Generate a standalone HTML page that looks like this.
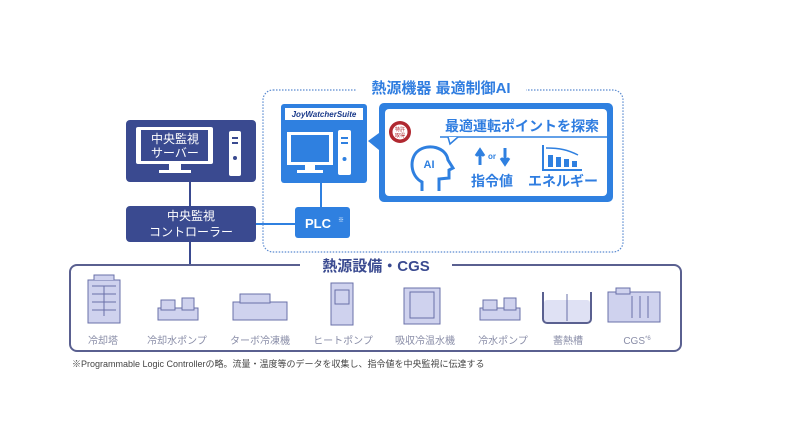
<!DOCTYPE html>
<html><head><meta charset="utf-8"><style>
body{margin:0;background:#fff;}
svg{display:block;font-family:"Liberation Sans","Noto Sans CJK JP",sans-serif;}
</style></head><body>
<svg width="792" height="448" viewBox="0 0 792 448" xmlns="http://www.w3.org/2000/svg">
<rect width="792" height="448" fill="#fff"/>
<line x1="190" y1="182" x2="190" y2="266" stroke="#3a4a90" stroke-width="2"/>
<line x1="256" y1="224" x2="296" y2="224" stroke="#2f80e0" stroke-width="2"/>
<line x1="321" y1="183" x2="321" y2="208" stroke="#2f80e0" stroke-width="2"/>
<rect x="126" y="120" width="130" height="62" rx="4" fill="#3a4a90"/>
<rect x="136" y="127" width="77" height="37" rx="2" fill="#fff"/>
<rect x="141" y="130" width="67" height="31" fill="#3a4a90"/>
<path d="M169 164 h12 v6 h10 v3 h-32 v-3 h10z" fill="#fff"/>
<rect x="229" y="131" width="12" height="45" rx="2" fill="#fff"/>
<rect x="232" y="137" width="6" height="2" fill="#3a4a90"/><rect x="232" y="142" width="6" height="2" fill="#3a4a90"/>
<circle cx="235" cy="158" r="2" fill="#3a4a90"/>
<text x="175" y="143" font-size="12" fill="#fff" text-anchor="middle">中央監視</text>
<text x="175" y="157" font-size="12" fill="#fff" text-anchor="middle">サーバー</text>
<rect x="126" y="206" width="130" height="36" rx="4" fill="#3a4a90"/>
<text x="191" y="220" font-size="12" fill="#fff" text-anchor="middle">中央監視</text>
<text x="191" y="236" font-size="12" fill="#fff" text-anchor="middle">コントローラー</text>
<rect x="263" y="90" width="360" height="162" rx="10" fill="none" stroke="#5a8ad0" stroke-width="1.2" stroke-dasharray="1.5 1.5"/>
<rect x="356" y="78" width="170" height="20" fill="#fff"/>
<text x="441" y="93" font-size="15" font-weight="bold" fill="#2f7de0" text-anchor="middle">熱源機器 最適制御AI</text>
<rect x="281" y="104" width="86" height="79" rx="3" fill="#2f80e0"/>
<rect x="285" y="108" width="78" height="12" fill="#fff"/>
<text x="324" y="117" font-size="8" font-weight="bold" font-style="italic" fill="#1a3a8a" text-anchor="middle">JoyWatcherSuite</text>
<rect x="287" y="132" width="46" height="33" fill="#fff"/>
<rect x="291" y="135" width="38" height="27" fill="#2f80e0"/>
<rect x="305" y="165" width="10" height="5" fill="#fff"/><rect x="297" y="170" width="26" height="3" fill="#fff"/>
<rect x="338" y="130" width="13" height="45" rx="2" fill="#fff"/>
<rect x="341" y="137" width="7" height="2" fill="#2f80e0"/><rect x="341" y="142" width="7" height="2" fill="#2f80e0"/>
<circle cx="344.5" cy="159" r="2" fill="#2f80e0"/>
<rect x="295" y="207" width="55" height="31" rx="3" fill="#2f80e0"/>
<text x="318" y="228" font-size="13" font-weight="bold" fill="#fff" text-anchor="middle">PLC</text>
<text x="338" y="222" font-size="6" fill="#fff">※</text>
<path d="M384 103 H608 a5 5 0 0 1 5 5 V197 a5 5 0 0 1 -5 5 H384 a5 5 0 0 1 -5 -5 V150 L368 141 L379 133 V108 a5 5 0 0 1 5 -5z" fill="#2f80e0"/>
<rect x="385" y="109" width="222" height="87" rx="4" fill="#fff"/>
<text x="522" y="131" font-size="14" font-weight="bold" fill="#2f7de0" text-anchor="middle">最適運転ポイントを探索</text>
<path d="M440 137 H607" stroke="#2f80e0" stroke-width="1.5"/>
<path d="M448 137 L450 144 L458 137" fill="#fff" stroke="#2f80e0" stroke-width="1.5"/>
<circle cx="400" cy="132" r="11" fill="#b02830"/>
<circle cx="400" cy="132" r="8" fill="#fff" stroke="#b02830"/>
<text x="400" y="131" font-size="5" fill="#b02830" text-anchor="middle">特許</text>
<text x="400" y="137" font-size="5" fill="#b02830" text-anchor="middle">取得</text>
<path d="M422 191 V182 C410 176 409 158 418 151 C428 143 446 147 448 160 L453 168 L449 170 L449 178 L439 179 V191" fill="none" stroke="#2f80e0" stroke-width="3"/>
<text x="429" y="168" font-size="11" font-weight="bold" fill="#2f80e0" text-anchor="middle">AI</text>
<path d="M480 165 V152 M476 156 L480 150 L484 156" stroke="#2f80e0" stroke-width="3" fill="#2f80e0"/>
<path d="M505 148 V162 M501 158 L505 164 L509 158" stroke="#2f80e0" stroke-width="3" fill="#2f80e0"/>
<text x="492" y="159" font-size="8" font-weight="bold" fill="#2f80e0" text-anchor="middle">or</text>
<text x="492" y="186" font-size="14" font-weight="bold" fill="#2f7de0" text-anchor="middle">指令値</text>
<path d="M543 145 V170 H582" stroke="#2f80e0" stroke-width="2" fill="none"/>
<rect x="548" y="155" width="5" height="12" fill="#2f80e0"/><rect x="556" y="157" width="5" height="10" fill="#2f80e0"/><rect x="564" y="159" width="5" height="8" fill="#2f80e0"/><rect x="572" y="161" width="5" height="6" fill="#2f80e0"/>
<path d="M546 148 C560 148 568 150 578 155" stroke="#2f80e0" stroke-width="1.5" fill="none"/>
<text x="563" y="186" font-size="14" font-weight="bold" fill="#2f7de0" text-anchor="middle">エネルギー</text>
<rect x="70" y="265" width="611" height="86" rx="7" fill="none" stroke="#5a6090" stroke-width="2"/>
<rect x="300" y="255" width="152" height="20" fill="#fff"/>
<text x="376" y="271" font-size="15" font-weight="bold" fill="#3a4a90" text-anchor="middle">熱源設備・CGS</text>
<g fill="#cfd2ee" stroke="#6a70a8" stroke-width="1">
<rect x="88" y="280" width="32" height="43"/><path d="M94 280 v-5 h20 v5"/><path d="M92 286 h24 M92 294 h24 M92 302 h24 M92 310 h24 M104 286 v30"/>
<rect x="158" y="308" width="40" height="12"/><rect x="161" y="300" width="14" height="10"/><rect x="182" y="298" width="12" height="12"/>
<rect x="233" y="302" width="54" height="18"/><rect x="240" y="294" width="30" height="9"/>
<rect x="331" y="283" width="22" height="42"/><rect x="335" y="290" width="14" height="14"/>
<rect x="404" y="288" width="36" height="36"/><rect x="410" y="292" width="24" height="26"/>
<rect x="480" y="308" width="40" height="12"/><rect x="483" y="300" width="14" height="10"/><rect x="504" y="298" width="12" height="12"/>
<rect x="608" y="292" width="52" height="30"/><rect x="616" y="288" width="14" height="6"/><path d="M632 296 v22 M640 296 v22 M648 296 v22"/>
</g>
<rect x="544" y="300" width="46" height="22" rx="3" fill="#dfe1f4"/>
<path d="M543 292 V319 a4 4 0 0 0 4 4 H587 a4 4 0 0 0 4 -4 V292" fill="none" stroke="#5a6090" stroke-width="2"/>
<line x1="567" y1="294" x2="567" y2="321" stroke="#6a70a8"/>
<g font-size="10" fill="#8a8ea8" text-anchor="middle">
<text x="103" y="344">冷却塔</text><text x="177" y="344">冷却水ポンプ</text><text x="260" y="344">ターボ冷凍機</text><text x="343" y="344">ヒートポンプ</text><text x="425" y="344">吸収冷温水機</text><text x="503" y="344">冷水ポンプ</text><text x="568" y="344">蓄熱槽</text><text x="637" y="344">CGS<tspan font-size="6" dy="-4">*6</tspan></text>
</g>
<text x="72" y="367" font-size="9" fill="#444">※Programmable Logic Controllerの略。流量・温度等のデータを収集し、指令値を中央監視に伝達する</text>
</svg>
</body></html>
